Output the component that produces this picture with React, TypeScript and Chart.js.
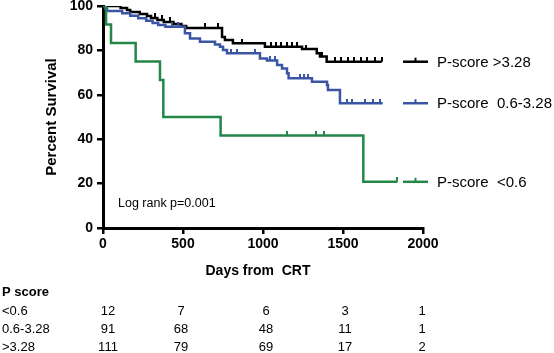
import React, { useEffect, useRef } from "react";
import { Chart, registerables } from "chart.js";

Chart.register(...registerables);

// ---------- data ----------
const xTickValues = [0, 500, 1000, 1500, 2000];

// P-score > 3.28 (black)
const highDays = [0, 110, 150, 170, 230, 275, 300, 340, 380, 440, 490, 520, 744, 762, 812, 1012, 1244, 1336, 1356, 1398, 1742];
const highSurv = [100, 99.1, 98.2, 97.3, 96.4, 95.5, 94.6, 93.7, 92.8, 91.9, 91.0, 90.1, 86.0, 84.7, 83.2, 81.7, 80.6, 78.7, 77.2, 74.9, 74.9];
const highCensor = [325, 369, 419, 637, 719, 870, 1050, 1080, 1110, 1150, 1180, 1210, 1270, 1370, 1450, 1490, 1530, 1570, 1610, 1650, 1700, 1742];

// P-score 0.6-3.28 (blue)
const midDays = [0, 15, 25, 120, 170, 220, 270, 310, 345, 390, 512, 544, 606, 700, 731, 750, 775, 981, 1025, 1088, 1119, 1150, 1160, 1306, 1400, 1406, 1481, 1748];
const midSurv = [100, 98.9, 97.8, 96.7, 95.6, 94.5, 93.4, 92.3, 91.4, 90.6, 87.7, 85.4, 83.9, 82.7, 81.7, 80.2, 78.7, 76.4, 75.4, 73.4, 71.9, 69.7, 67.4, 65.9, 64.4, 62.2, 56.2, 56.2];
const midCensor = [430, 470, 800, 840, 950, 1044, 1075, 1231, 1256, 1281, 1525, 1556, 1637, 1687, 1731];

// P-score < 0.6 (green)
const lowDays = [0, 19, 50, 204, 356, 377, 735, 1627, 1840];
const lowSurv = [100, 91.7, 83.3, 75.0, 66.7, 50.0, 41.7, 20.8, 20.8];
const lowCensor = [1152, 1331, 1381, 1840];

const seriesLabels = ["P-score >3.28", "P-score  0.6-3.28", "P-score  <0.6"];
const seriesColors = ["#000000", "#3b55a5", "#23874a"];

const riskHeader = "P score";
const riskGroups = ["<0.6", "0.6-3.28", ">3.28"];
const riskLow = [12, 7, 6, 3, 1];
const riskMid = [91, 68, 48, 11, 1];
const riskHigh = [111, 79, 69, 17, 2];

const xTitle = "Days from  CRT";
const yTitle = "Percent Survival";
const logRankText = "Log rank p=0.001";

// ---------- helpers ----------
const FONT = "'Liberation Sans', Arial, Helvetica, sans-serif";

function survivalAt(days: number[], surv: number[], t: number) {
  let v = surv[0];
  for (let i = 0; i < days.length; i++) {
    if (days[i] <= t) v = surv[i];
  }
  return v;
}

function makeTick(color: string) {
  const c = document.createElement("canvas");
  c.width = 2;
  c.height = 9;
  const g = c.getContext("2d")!;
  g.fillStyle = color;
  g.fillRect(0, 0, 2, 4.5);
  return c;
}

export default function App() {
  const ref = useRef<HTMLCanvasElement | null>(null);

  useEffect(() => {
    if (!ref.current) return;

    const curves = [
      { days: highDays, surv: highSurv, cens: highCensor },
      { days: midDays, surv: midSurv, cens: midCensor },
      { days: lowDays, surv: lowSurv, cens: lowCensor },
    ];

    const datasets: any[] = [];
    curves.forEach((c, i) => {
      datasets.push({
        type: "line",
        data: c.days.map((d, k) => ({ x: d, y: c.surv[k] })),
        borderColor: seriesColors[i],
        borderWidth: 2.5,
        stepped: true,
        pointRadius: 0,
        fill: false,
        order: 3 - i,
      });
    });
    curves.forEach((c, i) => {
      const tick = makeTick(seriesColors[i]);
      datasets.push({
        type: "scatter",
        data: c.cens.map((d) => ({ x: d, y: survivalAt(c.days, c.surv, d) })),
        pointStyle: tick,
        pointRadius: 5,
        showLine: false,
        order: 3 - i,
      });
    });

    const overlay = {
      id: "overlay",
      afterDraw(chart: any) {
        const ctx = chart.ctx;
        const xs = chart.scales.x;
        const ys = chart.scales.y;
        const area = chart.chartArea;
        ctx.save();
        ctx.fillStyle = "#000";

        // y title
        ctx.save();
        ctx.translate(52, (area.top + area.bottom) / 2);
        ctx.rotate(-Math.PI / 2);
        ctx.font = `bold 15px ${FONT}`;
        ctx.textAlign = "center";
        ctx.textBaseline = "middle";
        ctx.fillText(yTitle, 0, 0);
        ctx.restore();

        // x title
        ctx.font = `bold 14px ${FONT}`;
        ctx.textAlign = "center";
        ctx.textBaseline = "middle";
        ctx.fillText(xTitle, (area.left + area.right) / 2 - 5, 271);

        // log rank
        ctx.font = `12.5px ${FONT}`;
        ctx.textAlign = "left";
        ctx.fillText(logRankText, area.left + 15, ys.getPixelForValue(10.8));

        // legend
        const lastVals = [highSurv[highSurv.length - 1], midSurv[midSurv.length - 1], lowSurv[lowSurv.length - 1]];
        ctx.font = `15px ${FONT}`;
        lastVals.forEach((v, i) => {
          const y = ys.getPixelForValue(v);
          const x0 = area.right - 20;
          ctx.strokeStyle = seriesColors[i];
          ctx.lineWidth = 2.5;
          ctx.beginPath();
          ctx.moveTo(x0, y);
          ctx.lineTo(x0 + 25, y);
          ctx.stroke();
          ctx.lineWidth = 2;
          ctx.beginPath();
          ctx.moveTo(x0 + 12.5, y);
          ctx.lineTo(x0 + 12.5, y - 4);
          ctx.stroke();
          ctx.fillStyle = "#000";
          ctx.textAlign = "left";
          ctx.fillText(seriesLabels[i], x0 + 34, y + 1);
        });

        // risk table
        ctx.textBaseline = "middle";
        ctx.textAlign = "left";
        ctx.font = `bold 13px ${FONT}`;
        ctx.fillText(riskHeader, 2, 292);
        const rows = [riskLow, riskMid, riskHigh];
        const rowY = [311.5, 329.5, 347];
        const colOffset = [5, -2, 3, 2, -1];
        ctx.font = `13px ${FONT}`;
        rows.forEach((r, ri) => {
          ctx.textAlign = "left";
          ctx.fillText(riskGroups[ri], 2, rowY[ri]);
          ctx.textAlign = "center";
          r.forEach((n, ci) => {
            ctx.fillText(String(n), xs.getPixelForValue(xTickValues[ci]) + colOffset[ci], rowY[ri]);
          });
        });
        ctx.restore();
      },
    };

    const chart = new Chart(ref.current, {
      type: "line",
      data: { datasets },
      options: {
        animation: false,
        responsive: false,
        devicePixelRatio: 1,
        layout: { padding: { top: 6, right: 131, left: 0, bottom: 0 } },
        plugins: { legend: { display: false }, tooltip: { enabled: false } },
        scales: {
          x: {
            type: "linear",
            min: 0,
            max: 2000,
            afterBuildTicks(scale: any) {
              scale.ticks = xTickValues.map((v) => ({ value: v }));
            },
            afterFit(scale: any) {
              scale.height = 125;
              scale.paddingLeft = 0;
              scale.paddingRight = 0;
            },
            grid: { display: true, drawOnChartArea: false, drawTicks: true, tickLength: 6, color: "#000", lineWidth: 2.5 },
            border: { display: true, color: "#000", width: 3 },
            ticks: {
              color: "#000",
              font: { family: FONT, size: 14, weight: "bold" },
              padding: 2,
              maxRotation: 0,
              callback: (v: any) => String(v),
            },
          },
          y: {
            type: "linear",
            min: 0,
            max: 100,
            ticks: {
              stepSize: 20,
              color: "#000",
              font: { family: FONT, size: 14, weight: "bold" },
              padding: 4,
              callback: (v: any) => String(v),
            },
            afterFit(scale: any) {
              scale.width = 103;
              scale.paddingTop = 0;
              scale.paddingBottom = 0;
            },
            grid: { display: true, drawOnChartArea: false, drawTicks: true, tickLength: 6, color: "#000", lineWidth: 2.5 },
            border: { display: true, color: "#000", width: 3 },
          },
        },
      } as any,
      plugins: [overlay],
    });

    return () => chart.destroy();
  }, []);

  return (
    <div style={{ position: "absolute", left: 0, top: 0, width: 554, height: 353, background: "#fff" }}>
      <canvas ref={ref} width={554} height={353} style={{ width: 554, height: 353, display: "block" }} />
    </div>
  );
}
